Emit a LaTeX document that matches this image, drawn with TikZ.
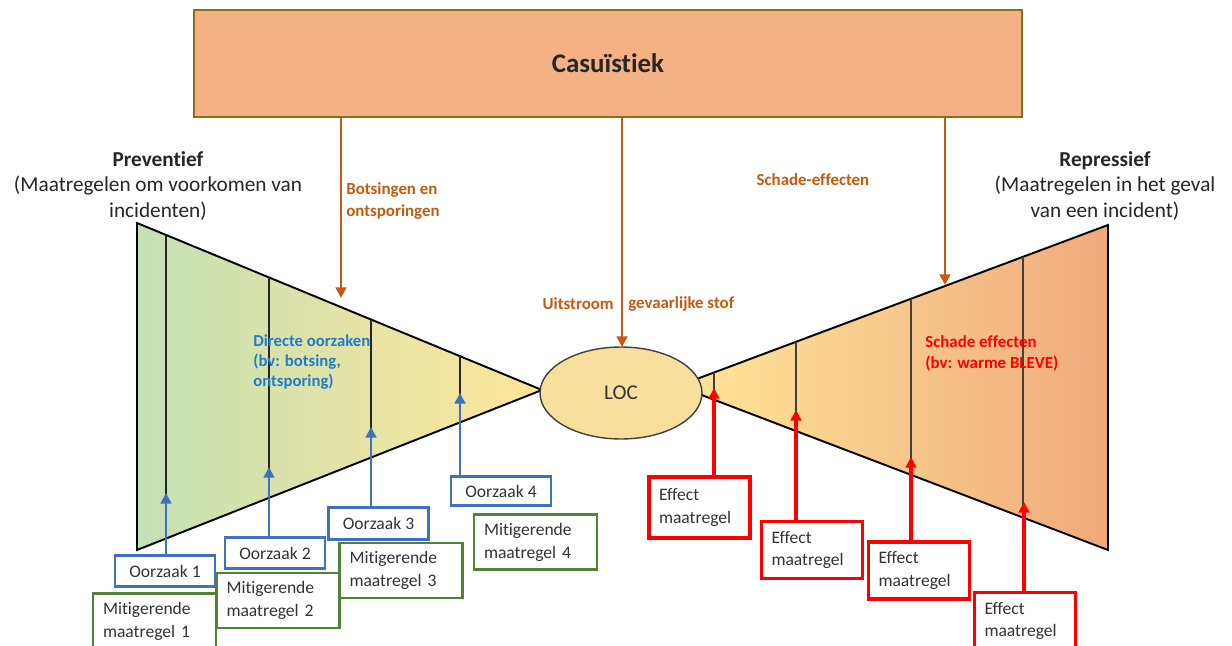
\documentclass[tikz,border=0pt]{standalone}
\usepackage{fontspec}
\setmainfont{Carlito}[Ligatures=NoCommon]
\usetikzlibrary{shapes.geometric,arrows.meta}
\definecolor{casfill}{HTML}{F4B183}
\definecolor{casline}{HTML}{8C6D1F}
\definecolor{oranje}{HTML}{C55A11}
\definecolor{groen}{HTML}{C5E0B4}
\definecolor{geel}{HTML}{FFE699}
\definecolor{zalm}{HTML}{F0AA7C}
\definecolor{locfill}{HTML}{F9DF9E}
\definecolor{blauw}{HTML}{3D72C0}
\definecolor{blauwtekst}{HTML}{1F7CC8}
\definecolor{donkergroen}{HTML}{548235}

\begin{document}
\begin{tikzpicture}[x=0.02cm,y=-0.02cm,
    tekst/.style={inner sep=0pt, font=\fontsize{12.1}{14.5}\selectfont, text=black!85},
    label/.style={inner sep=0pt, align=left, font=\fontsize{9.6}{12}\selectfont\bfseries},
    oorzaak/.style={draw=blauw, line width=1.5pt, fill=white, minimum width=2cm, minimum height=0.63cm,
      inner sep=0pt, font=\fontsize{10}{13}\selectfont, text=black!80},
    mitigatie/.style={draw=donkergroen, line width=1.5pt, fill=white, text width=2.06cm, inner xsep=0.2cm,
      minimum height=1.1cm, align=left, font=\fontsize{10}{13}\selectfont, text=black!80},
    effect/.style={draw=red, line width=1.8pt, fill=white, text width=1.62cm, inner xsep=0.2cm,
      minimum height=1.14cm, align=left, font=\fontsize{10}{13}\selectfont, text=black!80},
    pijl/.style={line width=1.5pt, -{Triangle[length=6pt,width=6pt]}}]
  \useasboundingbox (0,0) rectangle (1232,646);

  \node[draw=casline, line width=1.2pt, fill=casfill, minimum width=16.56cm, minimum height=2.14cm,
    font=\fontsize{15.3}{18}\selectfont\bfseries, text=black!85] (cas) at (608,63.5) {Casuïstiek};

  \node[tekst, align=center] (prev) at (158,186) {\textbf{Preventief}\\(Maatregelen om voorkomen van\\incidenten)};
  \node[tekst, align=center] (repr) at (1105,186) {\textbf{Repressief}\\(Maatregelen in het geval\\van een incident)};

  % bow-tie
  \coordinate (lt) at (137,223);
  \coordinate (lb) at (137,550);
  \coordinate (lp) at (542,390);
  \coordinate (rt) at (1108,225);
  \coordinate (rb) at (1108,550);
  \coordinate (rp) at (678,386);
  \draw[line width=1.1pt, left color=groen, right color=geel] (lt) -- (lp) -- (lb) -- cycle;
  \draw[line width=1.1pt, left color=geel, right color=zalm] (rt) -- (rp) -- (rb) -- cycle;
  \begin{scope}
    \clip (lt) -- (lp) -- (lb) -- cycle;
    \foreach \x in {166,269,371,460} \draw[black!85, line width=0.7pt] (\x,200) -- (\x,560);
  \end{scope}
  \begin{scope}
    \clip (rt) -- (rp) -- (rb) -- cycle;
    \foreach \x in {714,796,911,1023} \draw[black!75, line width=0.7pt] (\x,200) -- (\x,560);
  \end{scope}
  \node[ellipse, draw=black!75, line width=0.8pt, fill=locfill, minimum width=3.24cm, minimum height=1.84cm,
    inner sep=0pt, font=\fontsize{12}{14}\selectfont, text=black!80] (loc) at (621,393) {LOC};

  % orange arrows from the case box
  \coordinate (o1) at (341,298);
  \coordinate (o2) at (622,347);
  \coordinate (o3) at (945,285);
  \foreach \t in {o1,o2,o3} \draw[pijl, oranje] (cas.south -| \t) -- (\t);
  \node[label, text=oranje, anchor=west] (bots) at (346,201) {Botsingen en\\ontsporingen};
  \node[label, text=oranje] (schade) at (813,180) {Schade-effecten};
  \node[label, text=oranje, anchor=east] (uit) at (614,304) {Uitstroom};
  \node[label, text=oranje, anchor=west] (gev) at (628,304) {gevaarlijke stof};

  \node[label, text=blauwtekst, anchor=west, font=\fontsize{9.5}{11.5}\selectfont\bfseries] (dir) at (253,362)
    {Directe oorzaken\\(bv: botsing,\\ontsporing)};
  \node[label, text=red, anchor=west] (sch) at (925,353) {Schade effecten\\(bv: warme BLEVE)};

  % causes
  \node[oorzaak] (oz1) at (165,571) {Oorzaak 1};
  \node[oorzaak] (oz2) at (275,553) {Oorzaak 2};
  \node[oorzaak] (oz3) at (378.5,523.5) {Oorzaak 3};
  \node[oorzaak, minimum height=0.57cm] (oz4) at (501,491) {Oorzaak 4};
  \node[mitigatie] (mm1) at (154.5,621) {Mitigerende\\maatregel 1};
  \node[mitigatie] (mm2) at (278,600.5) {Mitigerende\\maatregel 2};
  \node[mitigatie] (mm3) at (401,570.5) {Mitigerende\\maatregel 3};
  \node[mitigatie] (mm4) at (535.5,542) {Mitigerende\\maatregel 4};
  \coordinate (b1) at (166,493);
  \coordinate (b2) at (269,467);
  \coordinate (b3) at (371,427);
  \coordinate (b4) at (460,393);
  \draw[pijl, blauw] (oz1.north -| b1) -- (b1);
  \draw[pijl, blauw] (oz2.north -| b2) -- (b2);
  \draw[pijl, blauw] (oz3.north -| b3) -- (b3);
  \draw[pijl, blauw] (oz4.north -| b4) -- (b4);

  % effects
  \node[effect, minimum height=1.22cm] (ef1) at (699.5,507.5) {Effect\\maatregel};
  \node[effect] (ef2) at (812,550) {Effect\\maatregel};
  \node[effect] (ef3) at (919,570.5) {Effect\\maatregel};
  \node[effect] (ef4) at (1025,621) {Effect\\maatregel};
  \coordinate (r1) at (714,388);
  \coordinate (r2) at (796,410);
  \coordinate (r3) at (911,457);
  \coordinate (r4) at (1024,502);
  \draw[pijl, red, line width=1.8pt] (ef1.north -| r1) -- (r1);
  \draw[pijl, red, line width=1.8pt] (ef2.north -| r2) -- (r2);
  \draw[pijl, red, line width=1.8pt] (ef3.north -| r3) -- (r3);
  \draw[pijl, red, line width=1.8pt] (ef4.north -| r4) -- (r4);
\end{tikzpicture}
\end{document}
